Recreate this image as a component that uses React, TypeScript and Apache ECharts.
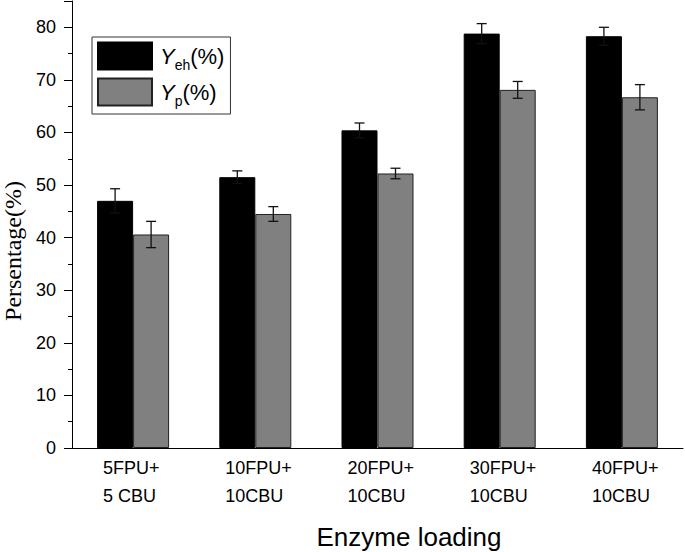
import React, { useEffect, useRef } from "react";
import * as echarts from "echarts";

const categories = ["5FPU+\n5 CBU", "10FPU+\n10CBU", "20FPU+\n10CBU", "30FPU+\n10CBU", "40FPU+\n10CBU"];
const yehValues = [47.0, 51.5, 60.4, 78.8, 78.3];
const yehErrors = [2.3, 1.2, 1.4, 1.9, 1.7];
const ypValues = [40.6, 44.5, 52.2, 68.1, 66.7];
const ypErrors = [2.5, 1.4, 1.0, 1.6, 2.4];
const seriesNames = ["Yeh", "Yp"];
const yTitle = "Persentage(%)";
const xTitle = "Enzyme loading";

const BAR_W = 36;
const SANS = "'Liberation Sans', Arial, sans-serif";
const SERIF = "'Liberation Serif', 'Times New Roman', serif";

function errorSeries(name: string, values: number[], errors: number[], offset: number) {
  return {
    name: name + "-err",
    type: "custom",
    z: 10,
    silent: true,
    data: values.map((v, i) => [i, v, errors[i]]),
    renderItem: (params: any, api: any) => {
      const i = api.value(0);
      const v = api.value(1);
      const e = api.value(2);
      const top = api.coord([i, v + e]);
      const bot = api.coord([i, v - e]);
      const x = top[0] + offset;
      const cap = 5;
      const style = { stroke: "#111", lineWidth: 1.3 };
      return {
        type: "group",
        children: [
          { type: "line", shape: { x1: x, y1: top[1], x2: x, y2: bot[1] }, style },
          { type: "line", shape: { x1: x - cap, y1: top[1], x2: x + cap, y2: top[1] }, style },
          { type: "line", shape: { x1: x - cap, y1: bot[1], x2: x + cap, y2: bot[1] }, style },
        ],
      };
    },
  };
}

export default function App() {
  const ref = useRef<HTMLDivElement>(null);
  useEffect(() => {
    if (!ref.current) return;
    const chart = echarts.init(ref.current, null, { renderer: "svg" });
    chart.setOption({
      animation: false,
      backgroundColor: "#fff",
      grid: { left: 72, right: 2, top: 1, bottom: 104, containLabel: false },
      legend: {
        orient: "vertical",
        left: 92,
        top: 37,
        data: seriesNames,
        icon: "rect",
        itemWidth: 54,
        itemHeight: 27,
        itemGap: 4,
        padding: [3, 6, 6, 5],
        borderColor: "#333",
        borderWidth: 1,
        selectedMode: false,
        formatter: (name: string) =>
          name === "Yeh" ? "{y|Y}{s|eh}{n|(%)}" : "{y|Y}{s|p}{n|(%)}",
        textStyle: {
          fontSize: 22,
          lineHeight: 27,
          height: 27,
          rich: {
            y: { fontFamily: SANS, fontSize: 22, fontStyle: "italic", lineHeight: 27, color: "#000", padding: [0, 0, 0, 3] },
            s: { fontFamily: SANS, fontSize: 14, lineHeight: 27, padding: [18, 0, 0, 0], color: "#000" },
            n: { fontFamily: SANS, fontSize: 22, lineHeight: 27, color: "#000" },
          },
        },
      },
      xAxis: {
        type: "category",
        data: categories,
        axisLine: { show: true, lineStyle: { color: "#000", width: 1 } },
        axisTick: { show: false },
        splitLine: { show: false },
        axisLabel: {
          margin: 6,
          interval: 0,
          formatter: (v: string) => v.split("\n").map((l) => `{a|${l}}`).join("\n"),
          rich: {
            a: {
              width: 72,
              align: "left",
              padding: [0, 0, 0, 12],
              fontFamily: SANS,
              fontSize: 18,
              lineHeight: 28,
              color: "#000",
            },
          },
        },
      },
      yAxis: {
        type: "value",
        min: 0,
        max: 85,
        interval: 10,
        axisLine: { show: true, lineStyle: { color: "#000", width: 1 } },
        axisTick: { show: true, inside: false, length: 8, lineStyle: { color: "#000" } },
        minorTick: { show: true, splitNumber: 2, length: 4, lineStyle: { color: "#000" } },
        splitLine: { show: false },
        axisLabel: { margin: 16, fontFamily: SANS, fontSize: 18, color: "#000", showMaxLabel: false },
      },
      graphic: [
        {
          type: "text",
          x: 13,
          y: 251,
          rotation: Math.PI / 2,
          style: {
            text: yTitle,
            fontFamily: SERIF,
            fontSize: 24,
            fill: "#000",
            textAlign: "center",
            textVerticalAlign: "middle",
          },
        },
        {
          type: "text",
          x: 409,
          y: 537,
          style: {
            text: xTitle,
            fontFamily: SANS,
            fontSize: 26,
            fill: "#000",
            textAlign: "center",
            textVerticalAlign: "middle",
          },
        },
      ],
      series: [
        {
          name: seriesNames[0],
          type: "bar",
          data: yehValues,
          barWidth: BAR_W,
          barGap: "0%",
          itemStyle: { color: "#000", borderColor: "#000", borderWidth: 1 },
        },
        {
          name: seriesNames[1],
          type: "bar",
          data: ypValues,
          barWidth: BAR_W,
          barGap: "0%",
          itemStyle: { color: "#808080", borderColor: "#222", borderWidth: 1 },
        },
        errorSeries(seriesNames[0], yehValues, yehErrors, -BAR_W / 2),
        errorSeries(seriesNames[1], ypValues, ypErrors, BAR_W / 2),
      ],
    });
    return () => chart.dispose();
  }, []);
  return (
    <div
      ref={ref}
      style={{ position: "fixed", left: 0, top: 0, width: 685, height: 552 }}
    />
  );
}
